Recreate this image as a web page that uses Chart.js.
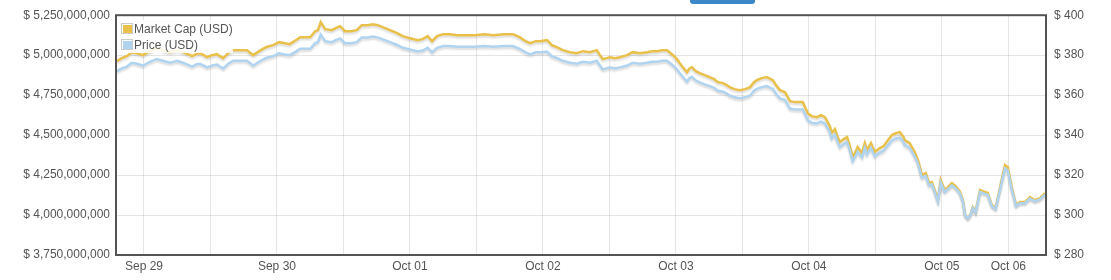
<!DOCTYPE html>
<html><head><meta charset="utf-8">
<script src="https://cdn.jsdelivr.net/npm/chart.js@4/dist/chart.umd.min.js"></script>
<style>
html,body{margin:0;padding:0;background:#fff;overflow:hidden;}
#wrap{position:relative;width:1111px;height:280px;}
#btn{position:absolute;left:690px;top:-4px;width:65px;height:8px;background:#3c87c8;border-radius:3px;}
canvas{position:absolute;left:0;top:0;}
</style></head><body>
<div id="wrap"><canvas id="c" width="1111" height="280"></canvas><div id="btn"></div></div>
<script>
// Hours since Sep 29 00:00
const hours = [-4.9,-4.0,-3.1,-2.2,-1.3,-0.2,1.1,2.3,3.4,4.7,
6.0,7.0,7.9,8.7,9.4,10.1,10.8,11.4,12.3,13.2,
13.7,14.3,15.2,16.1,17.3,18.6,19.7,20.8,22.0,23.3,
24.4,25.4,26.3,27.4,28.2,29.1,30.0,30.9,31.4,31.9,
32.7,33.9,34.6,35.4,36.3,37.4,38.4,39.3,40.4,41.3,
42.2,43.1,44.4,45.7,46.7,48.0,49.4,50.3,51.2,52.0,
52.9,54.0,55.2,56.5,57.9,59.7,61.5,63.0,65.1,66.6,
67.8,68.9,69.7,70.7,71.5,72.7,73.3,73.6,74.5,75.6,
76.9,78.1,79.2,80.5,81.7,82.3,82.8,83.5,84.1,85.0,
85.9,87.2,88.2,89.5,90.8,91.7,92.6,93.5,94.4,95.5,
96.2,96.7,97.4,98.0,98.5,98.9,99.6,100.3,101.2,102.1,
102.9,103.6,104.5,105.2,105.7,106.6,107.5,108.5,109.4,110.1,
110.6,111.5,112.4,113.5,114.2,114.8,115.7,116.6,117.5,118.4,
118.9,119.8,120.5,121.4,122.2,122.9,123.2,123.8,124.1,124.7,
125.2,125.6,126.3,126.9,127.4,127.9,128.5,128.8,129.6,130.1,
130.5,131.2,131.9,132.8,133.5,134.3,135.0,135.7,136.4,137.0,
137.3,138.2,139.1,139.7,140.4,141.1,141.7,142.2,142.7,143.3,
143.8,144.5,145.1,145.8,146.5,147.2,147.8,148.2,148.7,149.2,
149.6,150.1,150.9,151.8,152.3,153.0,153.7,154.5,155.0,155.4,
155.9,156.6,157.4,158.1,159.0,159.9,160.8,161.7,162.6];

// Market cap, millions USD
const marketCapM = [4962.5,4981.3,4993.8,5018.8,5012.5,5000,5025,5043.8,5031.3,5018.8,
5031.3,5018.8,5006.3,4993.8,5006.3,5012.5,5000,4987.5,5000,5006.3,
4993.8,4981.3,5012.5,5031.3,5031.3,5031.3,5000,5025,5050,5062.5,
5081.3,5075,5068.8,5093.8,5112.5,5112.5,5112.5,5150,5156.3,5206.3,
5162.5,5156.3,5168.8,5181.3,5150,5150,5156.3,5187.5,5187.5,5193.8,
5187.5,5175,5156.3,5137.5,5118.8,5106.3,5093.8,5100,5118.8,5087.5,
5118.8,5131.3,5131.3,5125,5125,5125,5131.3,5125,5131.3,5131.3,
5112.5,5087.5,5075,5087.5,5087.5,5093.8,5075,5062.5,5050,5031.3,
5018.8,5012.5,5025,5018.8,5031.3,5000,4975,4981.3,4987.5,4981.3,
4987.5,5000,5018.8,5012.5,5018.8,5025,5025,5031.3,5031.3,5000,
4975,4950,4918.8,4893.8,4918.8,4925,4900,4887.5,4875,4862.5,
4850,4831.3,4825,4812.5,4800,4787.5,4781.3,4787.5,4800,4831.3,
4843.8,4856.3,4862.5,4843.8,4806.3,4781.3,4768.8,4712.5,4706.3,4706.3,
4706.3,4637.5,4618.8,4612.5,4625,4612.5,4593.8,4556.3,4512.5,4537.5,
4487.5,4456.3,4475,4487.5,4431.3,4362.5,4400,4425,4387.5,4450,
4406.3,4450,4393.8,4418.8,4431.3,4468.8,4500,4512.5,4518.8,4493.8,
4468.8,4450,4393.8,4343.8,4250,4262.5,4200,4206.3,4156.3,4093.8,
4218.8,4156.3,4175,4200,4181.3,4150,4093.8,4000,3981.3,4006.3,
4050,4018.8,4156.3,4143.8,4137.5,4062.5,4043.8,4168.8,4250,4312.5,
4300,4175,4062.5,4081.3,4081.3,4112.5,4093.8,4106.3,4137.5];

// Price, USD
const priceUSD = [372.0,373.4,374.3,376.2,375.7,374.8,376.7,378.1,377.2,376.2,
377.2,376.2,375.3,374.3,375.3,375.7,374.8,373.9,374.8,375.3,
374.3,373.4,375.7,377.2,377.2,377.2,374.8,376.7,378.6,379.5,
380.9,380.4,380.0,381.8,383.2,383.2,383.2,386.0,386.5,390.3,
387.0,386.5,387.5,388.4,386.0,386.0,386.5,388.9,388.9,389.3,
388.9,387.9,386.5,385.1,383.7,382.8,381.8,382.3,383.7,381.4,
383.7,384.6,384.6,384.2,384.2,384.2,384.6,384.2,384.6,384.6,
383.2,381.4,380.4,381.4,381.4,381.8,380.4,379.5,378.6,377.2,
376.2,375.7,376.7,376.2,377.2,374.8,372.9,373.4,373.9,373.4,
373.9,374.8,376.2,375.7,376.2,376.7,376.7,377.2,377.2,374.8,
372.9,371.1,368.7,366.8,368.7,369.2,367.3,366.4,365.4,364.5,
363.6,362.2,361.7,360.8,359.8,358.9,358.4,358.9,359.8,362.2,
363.1,364.0,364.5,363.1,360.3,358.4,357.5,353.3,352.8,352.8,
352.8,347.6,346.2,345.8,346.7,345.8,344.4,341.5,338.3,340.1,
336.4,334.0,335.5,336.4,332.2,327.0,329.8,331.7,328.9,333.6,
330.3,333.6,329.4,331.2,332.2,335.0,337.3,338.3,338.7,336.9,
335.0,333.6,329.4,325.6,318.6,319.5,314.8,315.3,311.6,306.9,
316.2,311.6,313.0,314.8,313.4,311.1,306.9,299.8,298.4,300.3,
303.6,301.3,311.6,310.6,310.2,304.5,303.1,312.5,318.6,323.3,
322.3,313.0,304.5,305.9,305.9,308.3,306.9,307.8,310.2];

const xTickHours = [0,12,24,36,48,60,72,84,96,108,120,132,144,156];
const xTickLabels = ["Sep 29","","Sep 30","","Oct 01","","Oct 02","","Oct 03","","Oct 04","","Oct 05","Oct 06"];
const capTicksM = [3750,4000,4250,4500,4750,5000,5250];
const priceTicks = [280,300,320,340,360,380,400];
const seriesNames = ["Market Cap (USD)","Price (USD)"];
const seriesColors = ["#e9c04a","#b0d4f0"];

const FONT = '"Liberation Sans", Arial, Helvetica, sans-serif';
Chart.defaults.font.family = FONT;
Chart.defaults.font.size = 12;
Chart.defaults.color = '#545454';
const GRID = 'rgba(0,0,0,0.10)';

function fmt(n){ return Math.round(n).toString().replace(/\B(?=(\d{3})+(?!\d))/g, ','); }

const shadowPlugin = {
  id:'shadowPlugin',
  beforeDatasetDraw(chart){ const c=chart.ctx; c.save(); c.shadowColor='rgba(0,0,0,0.14)'; c.shadowBlur=2; c.shadowOffsetX=0; c.shadowOffsetY=2; },
  afterDatasetDraw(chart){ chart.ctx.restore(); }
};

const innerLegend = {
  id:'innerLegend',
  afterDatasetsDraw(chart){
    const ctx=chart.ctx, a=chart.chartArea;
    ctx.save();
    ctx.fillStyle='rgba(255,255,255,0.85)';
    ctx.fillRect(a.left+2, 20, 115, 33);
    chart.data.datasets.forEach((ds,i)=>{
      const y = 23 + i*16.3;
      ctx.strokeStyle='#cccccc'; ctx.lineWidth=1;
      ctx.strokeRect(a.left+5.5, Math.round(y)+0.5, 11, 10);
      ctx.fillStyle=ds.borderColor;
      ctx.fillRect(a.left+7, Math.round(y)+2, 9, 8);
      ctx.fillStyle='#545454'; ctx.font='12px '+FONT; ctx.textBaseline='middle'; ctx.textAlign='left';
      ctx.fillText(ds.label, a.left+18, y+6.3);
    });
    ctx.restore();
  },
  afterDraw(chart){
    const ctx=chart.ctx, a=chart.chartArea;
    ctx.save();
    ctx.strokeStyle='#545454'; ctx.lineWidth=2;
    ctx.strokeRect(a.left, a.top, a.right-a.left, a.bottom-a.top);
    ctx.restore();
  }
};

new Chart(document.getElementById('c'), {
  type:'line',
  data:{
    datasets:[
      {label:seriesNames[0], data:hours.map((h,i)=>({x:h,y:marketCapM[i]})), yAxisID:'y',
       borderColor:seriesColors[0], backgroundColor:seriesColors[0], borderWidth:2.5, pointRadius:0, tension:0, order:1},
      {label:seriesNames[1], data:hours.map((h,i)=>({x:h,y:priceUSD[i]})), yAxisID:'y2',
       borderColor:seriesColors[1], backgroundColor:seriesColors[1], borderWidth:2.5, pointRadius:0, tension:0, order:0}
    ]
  },
  options:{
    responsive:false, devicePixelRatio:1, animation:false,
    layout:{padding:{top:15,left:0,right:0,bottom:0}},
    plugins:{legend:{display:false}, tooltip:{enabled:false}},
    scales:{
      x:{type:'linear', min:-5.05, max:162.8,
         afterBuildTicks(s){ s.ticks = xTickHours.map(v=>({value:v})); },
         ticks:{autoSkip:false, maxRotation:0, minRotation:0, padding:4,
                callback(v){ const i=xTickHours.indexOf(v); return i>=0 ? xTickLabels[i] : ''; }},
         grid:{color:GRID, drawTicks:false, lineWidth:1},
         border:{display:false},
         afterFit(s){ s.height=25; }},
      y:{position:'left', min:3750, max:5250,
         afterBuildTicks(s){ s.ticks = capTicksM.map(v=>({value:v})); },
         ticks:{padding:6, callback:v=>'$ '+fmt(v*1e6)},
         grid:{color:GRID, drawTicks:false, lineWidth:1},
         border:{display:false},
         afterFit(s){ s.width=116; }},
      y2:{position:'right', min:280, max:400,
         afterBuildTicks(s){ s.ticks = priceTicks.map(v=>({value:v})); },
         ticks:{padding:8, callback:v=>'$ '+v},
         grid:{display:false, drawTicks:false},
         border:{display:false},
         afterFit(s){ s.width=65; }}
    }
  },
  plugins:[shadowPlugin, innerLegend]
});
</script>
</body></html>
